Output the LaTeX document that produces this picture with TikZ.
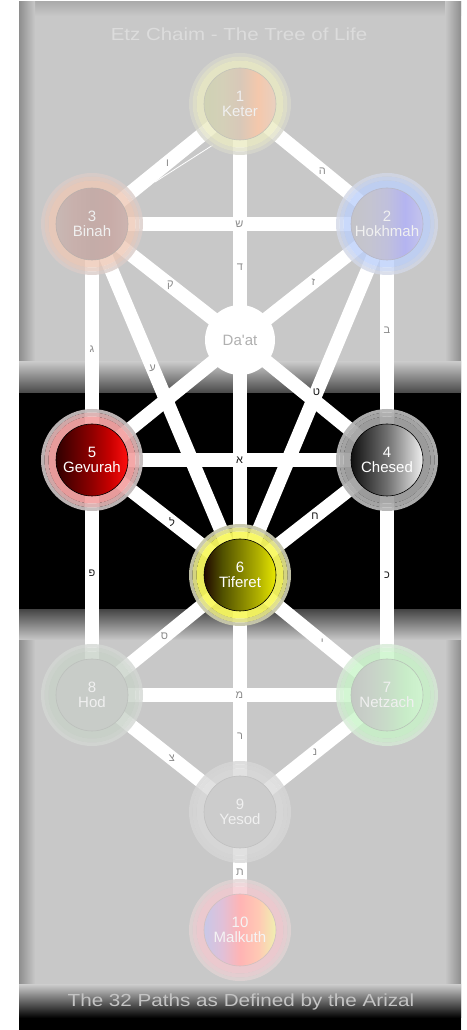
\documentclass[tikz,border=0pt]{standalone}
\usepackage{fontspec}
\setmainfont{Liberation Sans}
\newfontfamily\hebfont[Script=Hebrew]{Liberation Sans}
\pgfdeclarelayer{back}\pgfdeclarelayer{paths}\pgfdeclarelayer{ring}
\pgfsetlayers{back,paths,ring,main}
\definecolor{panel}{HTML}{C8C8C8}
\definecolor{vig}{HTML}{8E8E8E}
\definecolor{vigtop}{HTML}{ACACAC}
\definecolor{bandedge}{HTML}{484848}
\definecolor{titlec}{HTML}{DCDCDC}
\definecolor{footc}{HTML}{C4C4C4}
\definecolor{hebg}{HTML}{8C8C8C}
\definecolor{hebd}{HTML}{1A1A1A}
\definecolor{ringin}{HTML}{FFFFFF}\definecolor{ringout}{HTML}{FFFFFF}
\definecolor{cA}{HTML}{FFFFFF}\definecolor{cB}{HTML}{FFFFFF}\definecolor{cC}{HTML}{FFFFFF}
\definecolor{cD}{HTML}{FFFFFF}\definecolor{cE}{HTML}{FFFFFF}\definecolor{cBd}{HTML}{000000}
\pgfdeclarehorizontalshading[cA,cB,cC,cD,cE]{stripesh}{100bp}{color(0bp)=(cA); color(25bp)=(cA); color(37.5bp)=(cB); color(50bp)=(cC); color(62.5bp)=(cD); color(75bp)=(cE); color(100bp)=(cE)}
\newcommand\ringop{.8}
\newcommand\sefcol[8]{\definecolor{ringin}{HTML}{#1}\definecolor{ringout}{HTML}{#2}%
  \definecolor{cA}{HTML}{#3}\definecolor{cB}{HTML}{#4}\definecolor{cC}{HTML}{#5}%
  \definecolor{cD}{HTML}{#6}\definecolor{cE}{HTML}{#7}\definecolor{cBd}{HTML}{#8}}
\newcommand\sefnode[5]{%
  \begin{pgfonlayer}{ring}
  \fill[ringout, opacity=\ringop, even odd rule] (#2,#3) circle[radius=51] circle[radius=47.5];
  \fill[ringin!50!ringout, opacity=\ringop, even odd rule] (#2,#3) circle[radius=47.5] circle[radius=43.5];
  \fill[ringin, opacity=\ringop, even odd rule] (#2,#3) circle[radius=43.5] circle[radius=35.5];
  \end{pgfonlayer}
  \definecolor{sefTxt}{HTML}{#5}%
  \node[sef, shading=stripesh, text=sefTxt] (#1) at (#2,#3) {#4};}
\begin{document}
\begin{tikzpicture}[x=1pt,y=1pt,
  sef/.style={circle, minimum size=72pt, inner sep=0pt, draw=cBd, line width=0.6pt, align=center, font=\fontsize{15}{15.5}\selectfont},
  pth/.style={draw=white, line width=14pt},
  heb/.style={font=\hebfont\fontsize{11}{11}\selectfont, text=#1, inner sep=0pt},
  heb/.default=hebg]
\useasboundingbox (0,0) rectangle (466,1030);
\begin{pgfonlayer}{back}
\fill[white] (0,0) rectangle (466,1030);
\fill[panel] (19,0) rectangle (461,1028);
\shade[top color=vigtop, bottom color=panel] (19,1014) rectangle (461,1028);
\shade[left color=vig, right color=panel] (19,0) rectangle (35,1028);
\shade[left color=panel, right color=vig] (445,0) rectangle (461,1028);
\fill[black] (19,420) rectangle (461,637);
\shade[top color=panel, bottom color=bandedge] (19,637) rectangle (461,668);
\shade[top color=bandedge, bottom color=panel] (19,390) rectangle (461,420);
\shade[top color=panel, bottom color=black] (19,12) rectangle (461,45);
\fill[black] (19,0) rectangle (461,12);
\end{pgfonlayer}

\node[text=titlec, font=\fontsize{17.5}{17.5}\selectfont] (title) at (239,996) {\scalebox{1.17}[1]{Etz Chaim - The Tree of Life}};
\node[text=footc, font=\fontsize{17.5}{17.5}\selectfont] (footer) at (241,28) {\scalebox{1.18}[1]{The 32 Paths as Defined by the Arizal}};

\sefcol{ECECC4}{D6D6CC}{CFD2B4}{D4D0B8}{D8C8B8}{F4C8AC}{E8D0C0}{C4C4B8}
\sefnode{keter}{240}{926}{1\\Keter}{F0F0F0}
\sefcol{BCD0FA}{D2D8E6}{C4C4C8}{C4C4D0}{C0C0DC}{B4B4F0}{C4C4EC}{B8B8C8}
\sefnode{hokhmah}{387}{806}{2\\Hokhmah}{F0F0F0}
\sefcol{EEC8B6}{DACCC8}{C8B8B4}{C8B0AC}{C4ACA8}{C8ACA8}{CCB4B0}{BCB0AC}
\sefnode{binah}{92}{806}{3\\Binah}{F0F0F0}
\renewcommand\ringop{.95}
\sefcol{A4A4A4}{B4B4B4}{101010}{404040}{707070}{B0B0B0}{F0F0F0}{000000}
\sefnode{chesed}{387}{570}{4\\Chesed}{FFFFFF}
\sefcol{F4A4A4}{C4BCBC}{300000}{600000}{900000}{C80000}{FF1010}{000000}
\sefnode{gevurah}{92}{570}{5\\Gevurah}{FFFFFF}
\sefcol{F8F860}{C8C8AC}{200800}{505000}{808000}{B0B000}{E8E800}{000000}
\sefnode{tiferet}{240}{455}{6\\Tiferet}{FFFFFF}
\renewcommand\ringop{.8}
\sefcol{C8F4C8}{D6EAD6}{C4C8C4}{C8D0C8}{C8DCC8}{C8ECC8}{D0F4D0}{B8C4B8}
\sefnode{netzach}{387}{335}{7\\Netzach}{F0F0F0}
\sefcol{C8D2C8}{D4D8D4}{C8CCC8}{C8CCC8}{C8CCC8}{C8CCC8}{C8CCC8}{BCC0BC}
\sefnode{hod}{92}{335}{8\\Hod}{F0F0F0}
\sefcol{DADADA}{D6D6D6}{CCCCCC}{CCCCCC}{CCCCCC}{CCCCCC}{CCCCCC}{C0C0C0}
\sefnode{yesod}{240}{218}{9\\Yesod}{F0F0F0}
\sefcol{F4CAD0}{E2D4D4}{C8C8E8}{E0C0D8}{FFB4B4}{FFC8B4}{F0F0B0}{D0C0C0}
\sefnode{malkuth}{240}{100}{10\\Malkuth}{F4F4F4}
\node[circle, minimum size=70pt, inner sep=0pt, fill=white, text={rgb,255:red,176;green,176;blue,176}, font=\fontsize{15}{15.5}\selectfont] (daat) at (240,690) {Da\textquotesingle at};

\coordinate (thinA) at (155,848);
\coordinate (thinB) at (213,885);

\begin{pgfonlayer}{paths}
\draw[pth] (keter.center) -- node[heb, pos=.69]{ד} (daat.center);
\draw[pth] (daat.center) -- (tiferet.center);
\draw[pth] (daat.center) -- (gevurah.center);
\draw[pth] (daat.center) -- (chesed.center);
\draw[pth] (tiferet.center) -- node[heb, pos=.68]{ר} (yesod.center);
\draw[pth] (keter.center) -- node[heb, pos=.56]{ה} (hokhmah.center);
\draw[pth] (keter.center) -- node[heb, pos=.49]{ו} (binah.center);
\draw[white, line width=0.8pt] (thinA) -- (thinB);
\draw[pth] (binah.center) -- node[heb, pos=.5]{ש} (hokhmah.center);
\draw[pth] (binah.center) -- node[heb, pos=.53]{ק} (daat.center);
\draw[pth] (hokhmah.center) -- node[heb, pos=.5]{ז} (daat.center);
\draw[pth] (binah.center) -- node[heb, pos=.53]{ג} (gevurah.center);
\draw[pth] (binah.center) -- node[heb, pos=.41]{ע} (tiferet.center);
\draw[pth] (hokhmah.center) -- node[heb, pos=.45]{ב} (chesed.center);
\draw[pth] (hokhmah.center) -- node[heb=hebd, pos=.48]{ט} (tiferet.center);
\draw[pth] (gevurah.center) -- node[heb=hebd, pos=.5]{א} (chesed.center);
\draw[pth] (gevurah.center) -- node[heb=hebd, pos=.54]{ל} (tiferet.center);
\draw[pth] (chesed.center) -- node[heb=hebd, pos=.49]{ח} (tiferet.center);
\draw[pth] (gevurah.center) -- node[heb=hebd, pos=.48]{פ} (hod.center);
\draw[pth] (chesed.center) -- node[heb=hebd, pos=.49]{כ} (netzach.center);
\draw[pth] (tiferet.center) -- node[heb, pos=.51]{ס} (hod.center);
\draw[pth] (tiferet.center) -- node[heb, pos=.56]{י} (netzach.center);
\draw[pth] (hod.center) -- node[heb, pos=.5]{מ} (netzach.center);
\draw[pth] (hod.center) -- node[heb, pos=.54]{צ} (yesod.center);
\draw[pth] (netzach.center) -- node[heb, pos=.49]{נ} (yesod.center);
\draw[pth] (yesod.center) -- node[heb, pos=.51]{ת} (malkuth.center);
\end{pgfonlayer}
\end{tikzpicture}
\end{document}
